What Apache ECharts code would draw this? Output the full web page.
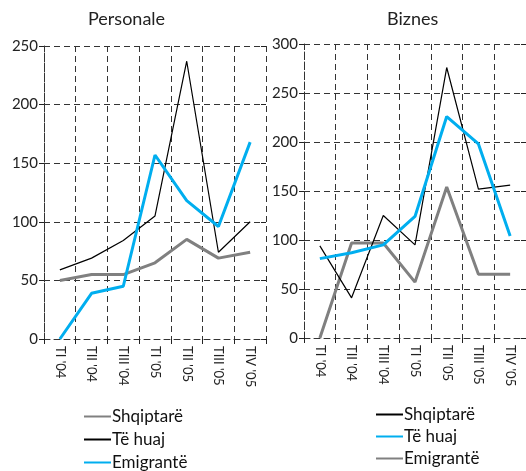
<!DOCTYPE html>
<html><head><meta charset="utf-8">
<script src="https://cdn.jsdelivr.net/npm/echarts@6/dist/echarts.min.js"></script>
<style>html,body{margin:0;padding:0;background:#fff;width:526px;height:471px;overflow:hidden;position:relative}
#c1{position:absolute;left:0;top:0;width:290px;height:540px}
#c2{position:absolute;left:263px;top:0;width:263px;height:540px}</style>
</head><body><div id="c1"></div><div id="c2"></div>
<script>
const categories = ["TI '04", "TII '04", "TIII '04", "TI '05", "TII '05", "TIII '05", "TIV '05"];
const seriesNames = ["Shqiptarë", "Të huaj", "Emigrantë"];
// Personale
const persShqiptare = [50, 55, 55, 65, 85, 69, 74];
const persTeHuaj = [59, 69, 84, 105, 237, 74, 100];
const persEmigrante = [0, 39, 45, 157, 118, 96, 168];
// Biznes
const bizShqiptare = [94, 41, 125, 95, 276, 152, 156];
const bizTeHuaj = [81, 87, 95, 124, 226, 198, 104];
const bizEmigrante = [0, 97, 97, 57, 154, 65, 65];
const persTicks = {min: 0, max: 250, interval: 50};
const bizTicks = {min: 0, max: 300, interval: 50};

const FONT = 'Lato';
const BLUE = '#00aeef', GRAY = '#808080', BLACK = '#000000';
const dash = {color: '#333', width: 1, type: [6, 4]};

function makeOption(cfg) {
  const axisX = (inside, labels) => ({
    type: 'category', data: categories, boundaryGap: true,
    axisLine: {show: !inside, lineStyle: dash},
    axisTick: {show: true, inside: inside, length: 5, alignWithLabel: false, lineStyle: {color: '#222', width: 1}},
    axisLabel: {show: labels, rotate: -90, fontFamily: FONT, fontSize: 13, color: '#222', margin: 7},
    splitLine: {show: !inside, lineStyle: dash}
  });
  const axisY = (inside, labels) => ({
    type: 'value', min: cfg.ticks.min, max: cfg.ticks.max, interval: cfg.ticks.interval,
    axisLine: {show: !inside, lineStyle: dash},
    axisTick: {show: true, inside: inside, length: 5, lineStyle: {color: '#222', width: 1}},
    axisLabel: {show: labels, fontFamily: FONT, fontSize: 15, color: '#222', margin: 6},
    splitLine: {show: !inside, lineStyle: dash}
  });
  return {
    animation: false,
    graphic: [{type: 'text', left: cfg.titleX, top: 10,
      style: {text: cfg.title, font: '18px ' + FONT, fill: '#222'}}],
    grid: {left: cfg.grid.left, top: cfg.grid.top, width: cfg.grid.width, height: cfg.grid.height},
    xAxis: [axisX(false, true), axisX(true, false)],
    yAxis: [axisY(false, true), axisY(true, false)],
    legend: {orient: 'vertical', left: cfg.legendLeft, top: cfg.legendTop, height: 120,
      itemWidth: 27, itemHeight: 14, itemGap: cfg.legendGap, itemStyle: {opacity: 0},
      textStyle: {fontFamily: FONT, fontSize: 17, color: '#111', padding: [0, 0, 0, -4]},
      data: seriesNames},
    series: cfg.series.map(s => ({
      name: s.name, type: 'line', data: s.data, symbol: 'none', xAxisIndex: 0, yAxisIndex: 0,
      lineStyle: {color: s.color, width: s.width}, itemStyle: {color: s.color}, z: s.z
    }))
  };
}

const c1 = echarts.init(document.getElementById('c1'));
c1.setOption(makeOption({
  title: 'Personale', titleX: 88, ticks: persTicks, legendLeft: 78, legendTop: 403, legendGap: 6,
  grid: {left: 44, top: 46, width: 222, height: 293},
  series: [
    {name: seriesNames[0], data: persShqiptare, color: GRAY, width: 3, z: 2},
    {name: seriesNames[1], data: persTeHuaj, color: BLACK, width: 1.2, z: 3},
    {name: seriesNames[2], data: persEmigrante, color: BLUE, width: 3, z: 4}
  ]
}));
const c2 = echarts.init(document.getElementById('c2'));
c2.setOption(makeOption({
  title: 'Biznes', titleX: 124, ticks: bizTicks, legendLeft: 107, legendTop: 401, legendGap: 5,
  grid: {left: 41, top: 44, width: 225, height: 294},
  series: [
    {name: seriesNames[0], data: bizShqiptare, color: BLACK, width: 1.2, z: 3},
    {name: seriesNames[1], data: bizTeHuaj, color: BLUE, width: 3, z: 4},
    {name: seriesNames[2], data: bizEmigrante, color: GRAY, width: 3, z: 2}
  ]
}));
</script></body></html>
